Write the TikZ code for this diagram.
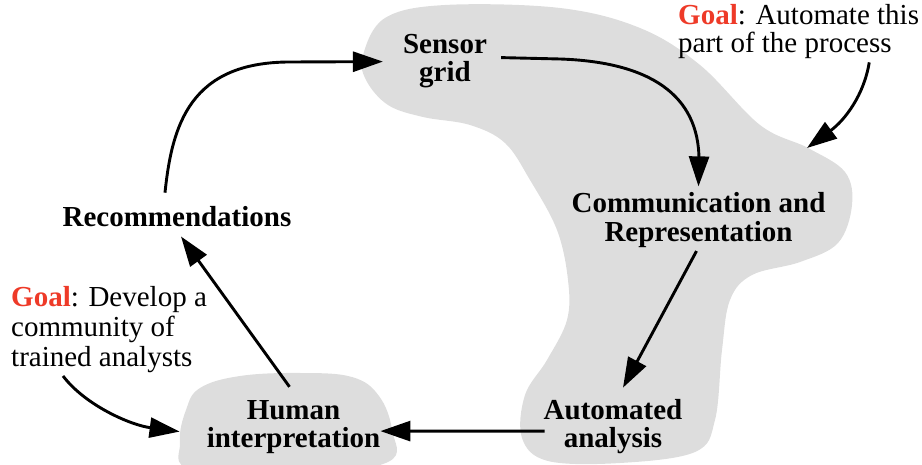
\documentclass[tikz,border=0pt]{standalone}
\usepackage{fontspec}
\setmainfont{Liberation Serif}
\usetikzlibrary{arrows.meta,calc}
\definecolor{blobgray}{RGB}{221,221,221}
\definecolor{goalred}{RGB}{238,58,40}
\begin{document}
\begin{tikzpicture}[x=1pt,y=-1pt,
  stage/.style={font=\fontsize{29}{28}\selectfont\bfseries, align=center, inner sep=0pt, anchor=base},
  goal/.style={align=left, inner sep=0pt, anchor=base west},
  flow/.style={line width=2.9pt, -{Triangle[length=30pt,width=20pt]}},
  blob/.style={fill=blobgray}]

\useasboundingbox (0,0) rectangle (922,465);

% shaded regions behind the stages
\begin{scope}
  \clip (0,0) rectangle (922,465);
  \fill[blob] plot[smooth cycle, tension=0.6] coordinates {
    (363,55) (385,18) (445,5) (560,8) (640,28) (700,65) (760,125) (808,148)
    (845,172) (852,205) (838,243) (800,262) (752,275) (730,300) (722,350)
    (715,420) (695,452) (620,463) (548,461) (522,438) (525,395) (547,360)
    (567,320) (568,280) (557,230) (530,180) (505,143) (470,125) (423,117)
    (388,105) (366,80)};
  \fill[blob] plot[smooth cycle, tension=0.65] coordinates {
    (200,388) (240,376) (300,373) (352,377) (379,396) (392,430) (388,462)
    (300,474) (192,470) (180,442) (186,410)};
\end{scope}

% stages of the cycle (base anchor sits on the last line)
\node[stage] (sensor) at (445,82) {Sensor\\grid};
\node[stage, font=\fontsize{29}{29}\selectfont\bfseries] (comm) at (698.5,241.7) {Communication and\\Representation};
\node[stage] (auto) at (613,447) {Automated\\analysis};
\node[stage] (human) at (293.5,447) {Human\\interpretation};
\node[stage] (rec) at (177,227) {Recommendations};

% goal annotations
\node[goal, font=\fontsize{29}{28}\selectfont] (goaltop) at (678,53)
  {\textcolor{goalred}{\textbf{Goal}}: Automate this\\part of the process};
\node[goal, font=\fontsize{29}{30}\selectfont] (goalleft) at (11,366.5)
  {\textcolor{goalred}{\textbf{Goal}}: Develop a\\community of\\trained analysts};
\coordinate (lobe) at (807,148);

% cycle connectors
\draw[flow] ($(rec.north)+(-12,-14)$) .. controls (172,125) and (190,62) .. (290,62)
  -- ($(sensor.west)+(-20,0)$);
\draw[flow] ($(sensor.east)+(14,-4)$) -- (560,59) .. controls (650,62) and (699,95) .. (699,160)
  -- ($(comm.north)+(0,-6)$);
\draw[flow] ($(comm.south)+(-2,3)$) -- ($(auto.north)+(10,-11)$);
\draw[flow] ($(auto.west)+(1,5)$) -- ($(human.east)+(0,4.5)$);
\draw[flow] ($(human.north)+(-4,-13)$) -- ($(rec.south)+(4,9)$);

% goal pointers
\draw[flow] ($(goalleft.south west)+(52,3)$) .. controls (85,405) and (130,425) .. ($(human.west)+(-27,5)$);
\draw[flow] ($(goaltop.south east)+(-50,3)$) .. controls (864,95) and (845,120) .. (lobe);
\end{tikzpicture}
\end{document}
